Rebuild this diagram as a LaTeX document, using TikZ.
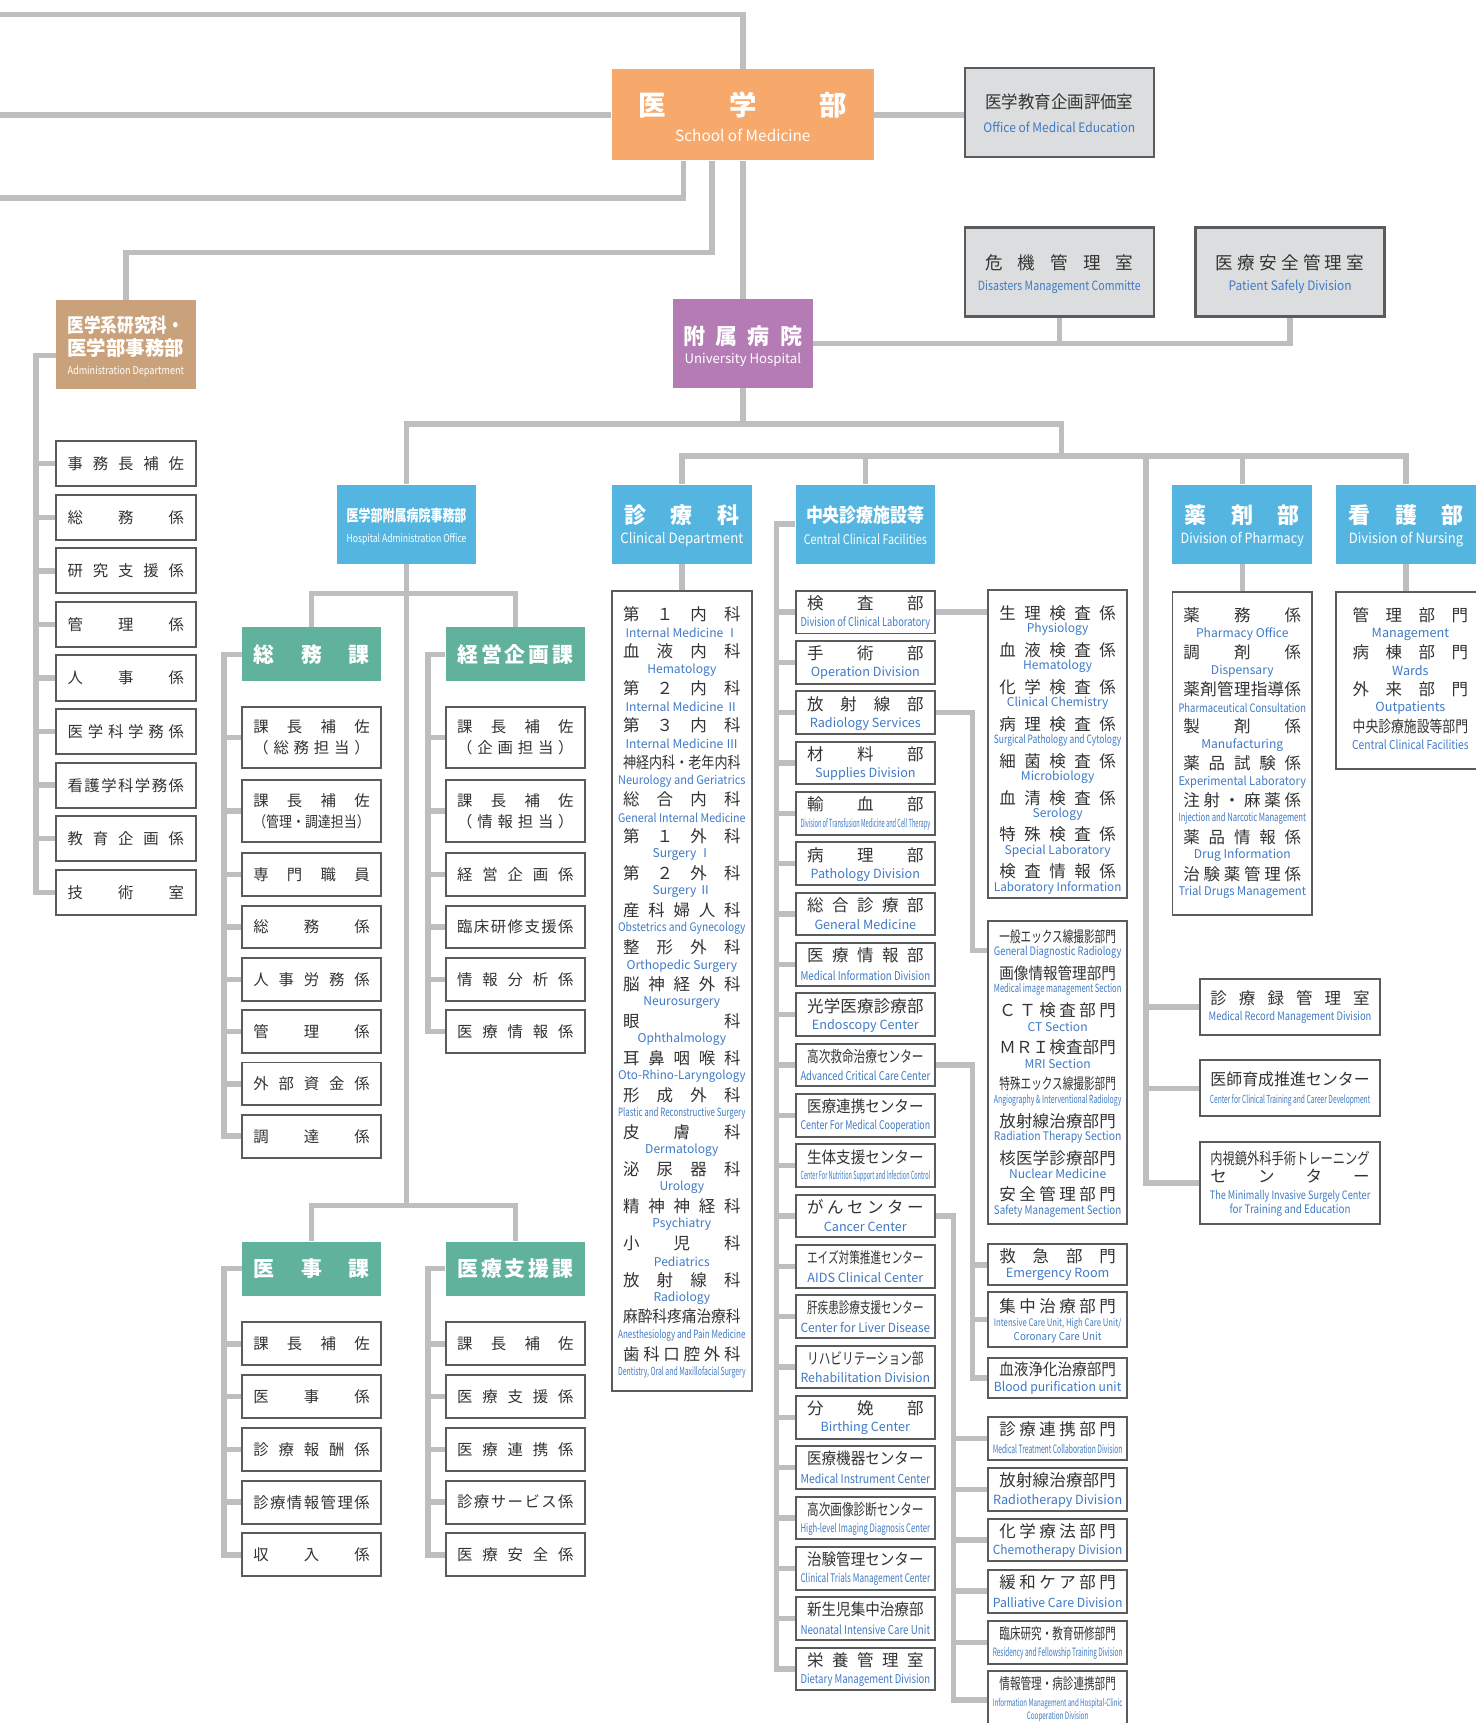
\documentclass[tikz,border=0pt]{standalone}
\usepackage{fontspec}
\setmainfont{Noto Sans CJK JP}
\usepackage{graphicx}
\usetikzlibrary{calc}
\pgfdeclarelayer{bg}
\pgfsetlayers{bg,main}

\definecolor{lineg}{HTML}{BCBEC0}
\definecolor{boxg}{HTML}{5A5B5D}
\definecolor{fillg}{HTML}{DCDDDE}
\definecolor{medor}{HTML}{F7A86B}
\definecolor{admbr}{HTML}{C9A27B}
\definecolor{hosppu}{HTML}{B57BB5}
\definecolor{hdrbl}{HTML}{53B5E0}
\definecolor{secgr}{HTML}{61B29C}
\definecolor{entx}{HTML}{3F7AC6}
\definecolor{jptx}{HTML}{333333}

\makeatletter
\newsavebox\fit@box
\newdimen\fit@wd
% squeeze a label into a width
\newcommand\fitw[2]{%
  \sbox\fit@box{#2}\fit@wd=\wd\fit@box
  \ifdim\fit@wd>#1\relax
    \pgfmathsetmacro\fit@r{pow((#1)/(\fit@wd),0.15)}%
    \resizebox{#1}{\fit@r\ht\fit@box}{\usebox\fit@box}%
  \else\usebox\fit@box\fi}
% spread characters over a width
\def\jsp@loop#1#2\jsp@end{#1\ifx\relax#2\relax\else\hfil\jsp@loop#2\jsp@end\fi}
\newcommand\jspread[2]{%
  \sbox\fit@box{#2}%
  \ifdim\wd\fit@box>#1\relax\fitw{#1}{#2}%
  \else\hbox to #1{\expandafter\jsp@loop#2\jsp@end}\fi}
\makeatother

\begin{document}
\begin{tikzpicture}[x=1pt,y=-1pt,
  conn/.style={draw=lineg, line width=5pt},
  wbox/.style={draw=boxg, line width=1.8pt, fill=white, inner sep=0pt, minimum width=127pt,
    text=jptx, font=\fontsize{14}{19}\selectfont, align=center},
  gbox/.style={wbox, fill=fillg, line width=2.2pt, minimum width=172pt, minimum height=81pt},
  hdrbox/.style={fill=hdrbl, inner sep=0pt, minimum width=127pt, minimum height=72pt},
  secbox/.style={fill=secgr, inner sep=0pt, minimum width=127pt, minimum height=49pt,
    text=white, font=\bfseries\fontsize{19}{19}\selectfont},
  jptext/.style={inner sep=0pt, text=jptx, font=\fontsize{15}{15}\selectfont},
  entext/.style={inner sep=0pt, text=entx, font=\fontsize{11}{11}\selectfont},
  wtext/.style={inner sep=0pt, text=white}]
\useasboundingbox (0,0) rectangle (1343,1568);
\coordinate (topl) at (0,13);
\coordinate (lowl) at (0,180);
\coordinate (jadm) at (114.5,230);

% top
\node[fill=medor, inner sep=0pt, minimum width=239pt, minimum height=83pt] (med) at (676,104.5) {};
\node[wtext, font=\bfseries\fontsize{25}{25}\selectfont] (medj) at (676,96) {\jspread{190pt}{医学部}};
\node[wtext, font=\fontsize{14}{14}\selectfont] (mede) at (676,123) {School of Medicine};

\node[gbox] (edu) at (964,102.5) {};
\node[jptext, font=\fontsize{16}{16}\selectfont] (eduj) at (964,93) {\jspread{135pt}{医学教育企画評価室}};
\node[entext, font=\fontsize{12}{12}\selectfont] (edue) at (964,116) {\fitw{138pt}{Office of Medical Education}};
\node[gbox] (risk) at (964,247.5) {};
\node[jptext, font=\fontsize{16}{16}\selectfont] (riskj) at (964,239) {\jspread{135pt}{危機管理室}};
\node[entext, font=\fontsize{12}{12}\selectfont] (riske) at (964,261) {\fitw{148pt}{Disasters Management Committe}};
\node[gbox] (safe) at (1174,247.5) {};
\node[jptext, font=\fontsize{16}{16}\selectfont] (safej) at (1174,239) {\jspread{135pt}{医療安全管理室}};
\node[entext, font=\fontsize{12}{12}\selectfont] (safee) at (1174,261) {\fitw{112pt}{Patient Safely Division}};

\node[fill=hosppu, inner sep=0pt, minimum width=127pt, minimum height=81pt] (hosp) at (676,312.5) {};
\node[wtext, font=\bfseries\fontsize{20}{20}\selectfont] (hospj) at (676,306) {\jspread{108pt}{附属病院}};
\node[wtext, font=\fontsize{12}{12}\selectfont] (hospe) at (676,327) {University Hospital};

\node[fill=admbr, inner sep=0pt, minimum width=127pt, minimum height=81pt] (adm) at (114.5,313.5) {};
\node[wtext, font=\bfseries\fontsize{18}{18}\selectfont] (admj1) at (114.5,296) {\jspread{106pt}{医学系研究科・}};
\node[wtext, font=\bfseries\fontsize{18}{18}\selectfont] (admj2) at (114.5,317) {\jspread{106pt}{医学部事務部}};
\node[wtext, font=\fontsize{10}{10}\selectfont] (adme) at (114.5,338) {\fitw{106pt}{Administration Department}};

\foreach \nm [count=\i] in {事務長補佐,総務係,研究支援係,管理係,人事係,医学科学務係,看護学科学務係,教育企画係,技術室} {
  \pgfmathsetmacro\yy{422+(\i-1)*48.75}
  \node[wbox, minimum height=41pt] (ad\i) at (114.5,\yy) {\jspread{106pt}{\nm}};
}

% hospital administration office
\node[hdrbox] (hadm) at (370,477) {};
\node[wtext, font=\bfseries\fontsize{15}{15}\selectfont] (hadmj) at (370,469) {\fitw{109pt}{医学部附属病院事務部}};
\node[wtext, font=\fontsize{10.5}{10.5}\selectfont] (hadme) at (370,491) {\fitw{109pt}{Hospital Administration Office}};

\node[secbox] (gs) at (283.5,595.5) {\jspread{105pt}{総務課}};
\node[secbox] (kk) at (469,595.5) {\jspread{105pt}{経営企画課}};
\node[secbox] (ij) at (283.5,1154.5) {\jspread{105pt}{医事課}};
\node[secbox] (ir) at (469,1154.5) {\jspread{105pt}{医療支援課}};

\node[wbox, minimum height=56pt] (gs1) at (283.5,671) {\jspread{106pt}{課長補佐}\\\jspread{106pt}{（総務担当）}};
\node[wbox, minimum height=56pt] (gs2) at (283.5,738) {\jspread{106pt}{課長補佐}\\\jspread{106pt}{（管理・調達担当）}};
\foreach \nm [count=\i from 3] in {専門職員,総務係,人事労務係,管理係,外部資金係,調達係} {
  \pgfmathsetmacro\yy{796+(\i-3)*47.6}
  \node[wbox, minimum height=39pt] (gs\i) at (283.5,\yy) {\jspread{106pt}{\nm}};
}
\node[wbox, minimum height=56pt] (kk1) at (469,671) {\jspread{106pt}{課長補佐}\\\jspread{106pt}{（企画担当）}};
\node[wbox, minimum height=56pt] (kk2) at (469,738) {\jspread{106pt}{課長補佐}\\\jspread{106pt}{（情報担当）}};
\foreach \nm [count=\i from 3] in {経営企画係,臨床研修支援係,情報分析係,医療情報係} {
  \pgfmathsetmacro\yy{796+(\i-3)*47.6}
  \node[wbox, minimum height=39pt] (kk\i) at (469,\yy) {\jspread{106pt}{\nm}};
}
\foreach \nm [count=\i] in {課長補佐,医事係,診療報酬係,診療情報管理係,収入係} {
  \pgfmathsetmacro\yy{1223+(\i-1)*48}
  \node[wbox, minimum height=39pt] (ij\i) at (283.5,\yy) {\jspread{106pt}{\nm}};
}
\foreach \nm [count=\i] in {課長補佐,医療支援係,医療連携係,診療サービス係,医療安全係} {
  \pgfmathsetmacro\yy{1223+(\i-1)*48}
  \node[wbox, minimum height=39pt] (ir\i) at (469,\yy) {\jspread{106pt}{\nm}};
}

% headers
\node[hdrbox] (clin) at (620.5,477) {};
\node[wtext, font=\bfseries\fontsize{20}{20}\selectfont] (clinj) at (620.5,469) {\jspread{105pt}{診療科}};
\node[wtext, font=\fontsize{13}{13}\selectfont] (cline) at (620.5,491) {\fitw{112pt}{Clinical Department}};
\node[hdrbox] (cent) at (787.5,477) {};
\node[wtext, font=\bfseries\fontsize{18}{18}\selectfont] (centj) at (787.5,469) {\jspread{108pt}{中央診療施設等}};
\node[wtext, font=\fontsize{12.5}{12.5}\selectfont] (cente) at (787.5,491) {\fitw{112pt}{Central Clinical Facilities}};
\node[hdrbox] (phar) at (1130.5,477) {};
\node[wtext, font=\bfseries\fontsize{20}{20}\selectfont] (pharj) at (1130.5,469) {\jspread{105pt}{薬剤部}};
\node[wtext, font=\fontsize{13}{13}\selectfont] (phare) at (1130.5,491) {\fitw{112pt}{Division of Pharmacy}};
\node[hdrbox] (nurs) at (1279.5,477) {};
\node[wtext, font=\bfseries\fontsize{20}{20}\selectfont] (nursj) at (1279.5,469) {\jspread{105pt}{看護部}};
\node[wtext, font=\fontsize{13}{13}\selectfont] (nurse) at (1279.5,491) {\fitw{104pt}{Division of Nursing}};

% clinical departments
\node[wbox, minimum height=728pt] (clist) at (620.5,902) {};
\foreach \jtxt/\etxt [count=\i] in {第１内科/Internal Medicine Ⅰ,血液内科/Hematology,第２内科/Internal Medicine Ⅱ,
  第３内科/Internal Medicine Ⅲ,神経内科・老年内科/Neurology and Geriatrics,総合内科/General Internal Medicine,
  第１外科/Surgery Ⅰ,第２外科/Surgery Ⅱ,産科婦人科/Obstetrics and Gynecology,整形外科/Orthopedic Surgery,
  脳神経外科/Neurosurgery,眼科/Ophthalmology,耳鼻咽喉科/Oto-Rhino-Laryngology,
  形成外科/Plastic and Reconstructive Surgery,皮膚科/Dermatology,泌尿器科/Urology,精神神経科/Psychiatry,
  小児科/Pediatrics,放射線科/Radiology,麻酔科疼痛治療科/Anesthesiology and Pain Medicine,
  歯科口腔外科/{Dentistry, Oral and Maxillofacial Surgery}} {
  \pgfmathsetmacro\yy{559+(\i-1)*33.65}
  \node[jptext] (clj\i) at (620.5,\yy) {\jspread{107pt}{\jtxt}};
  \node[entext] (cle\i) at (620.5,\yy+17) {\fitw{116pt}{\etxt}};
}

% central clinical facilities
\foreach \jtxt/\etxt [count=\i] in {検査部/Division of Clinical Laboratory,手術部/Operation Division,
  放射線部/Radiology Services,材料部/Supplies Division,輸血部/Division of Transfusion Medicine and Cell Therapy,
  病理部/Pathology Division,総合診療部/General Medicine,医療情報部/Medical Information Division,
  光学医療診療部/Endoscopy Center,高次救命治療センター/Advanced Critical Care Center,
  医療連携センター/Center For Medical Cooperation,生体支援センター/Center For Nutrition Support and Infection Control,
  がんセンター/Cancer Center,エイズ対策推進センター/AIDS Clinical Center,肝疾患診療支援センター/Center for Liver Disease,
  リハビリテーション部/Rehabilitation Division,分娩部/Birthing Center,医療機器センター/Medical Instrument Center,
  高次画像診断センター/High-level Imaging Diagnosis Center,治験管理センター/Clinical Trials Management Center,
  新生児集中治療部/Neonatal Intensive Care Unit,栄養管理室/Dietary Management Division} {
  \pgfmathsetmacro\yy{557+(\i-1)*45.8}
  \node[wbox, minimum height=39pt] (cf\i) at (787.5,\yy) {};
  \node[jptext] (cfj\i) at (787.5,\yy-8) {\jspread{106pt}{\jtxt}};
  \node[entext, font=\fontsize{11.5}{11.5}\selectfont] (cfe\i) at (787.5,\yy+10) {\fitw{118pt}{\etxt}};
}

% laboratory sections
\node[wbox, minimum height=280pt] (lab) at (962.5,677) {};
\foreach \jtxt/\etxt [count=\i] in {生理検査係/Physiology,血液検査係/Hematology,化学検査係/Clinical Chemistry,
  病理検査係/Surgical Pathology and Cytology,細菌検査係/Microbiology,血清検査係/Serology,
  特殊検査係/Special Laboratory,検査情報係/Laboratory Information} {
  \pgfmathsetmacro\yy{558+(\i-1)*33.6}
  \node[jptext] (labj\i) at (962.5,\yy) {\jspread{106pt}{\jtxt}};
  \node[entext] (labe\i) at (962.5,\yy+15) {\fitw{116pt}{\etxt}};
}

% radiology sections
\node[wbox, minimum height=276pt] (rad) at (962.5,976) {};
\foreach \jtxt/\etxt [count=\i] in {一般エックス線撮影部門/General Diagnostic Radiology,
  画像情報管理部門/Medical image management Section,ＣＴ検査部門/CT Section,ＭＲＩ検査部門/MRI Section,
  特殊エックス線撮影部門/Angiography \& Interventional Radiology,放射線治療部門/Radiation Therapy Section,
  核医学診療部門/Nuclear Medicine,安全管理部門/Safety Management Section} {
  \pgfmathsetmacro\yy{852+(\i-1)*33.6}
  \node[jptext] (radj\i) at (962.5,\yy) {\jspread{106pt}{\jtxt}};
  \node[entext] (rade\i) at (962.5,\yy+15) {\fitw{116pt}{\etxt}};
}

% critical care units
\node[wbox, minimum height=37pt] (er1) at (962.5,1151) {};
\node[jptext] (er1j) at (962.5,1143) {\jspread{106pt}{救急部門}};
\node[entext, font=\fontsize{11.5}{11.5}\selectfont] (er1e) at (962.5,1160) {Emergency Room};
\node[wbox, minimum height=50pt] (er2) at (962.5,1201) {};
\node[jptext] (er2j) at (962.5,1189) {\jspread{106pt}{集中治療部門}};
\node[entext, font=\fontsize{10}{10}\selectfont] (er2e1) at (962.5,1205) {\fitw{116pt}{Intensive Care Unit, High Care Unit/}};
\node[entext, font=\fontsize{10}{10}\selectfont] (er2e2) at (962.5,1217) {\fitw{80pt}{Coronary Care Unit}};
\node[wbox, minimum height=37pt] (er3) at (962.5,1254) {};
\node[jptext] (er3j) at (962.5,1246) {\jspread{106pt}{血液浄化治療部門}};
\node[entext, font=\fontsize{11.5}{11.5}\selectfont] (er3e) at (962.5,1263) {\fitw{116pt}{Blood purification unit}};

% cancer center units
\foreach \jtxt/\etxt/\yy [count=\i] in {診療連携部門/Medical Treatment Collaboration Division/1309,
  放射線治療部門/Radiotherapy Division/1355.5,化学療法部門/Chemotherapy Division/1401.5,
  緩和ケア部門/Palliative Care Division/1448,臨床研究・教育研修部門/Residency and Fellowship Training Division/1494.5} {
  \node[wbox, minimum height=39pt] (cn\i) at (962.5,\yy) {};
  \node[jptext] (cnj\i) at (962.5,\yy-8) {\jspread{106pt}{\jtxt}};
  \node[entext, font=\fontsize{11.5}{11.5}\selectfont] (cne\i) at (962.5,\yy+10) {\fitw{118pt}{\etxt}};
}
\node[wbox, minimum height=52pt] (cn6) at (962.5,1547) {};
\node[jptext] (cnj6) at (962.5,1532) {\jspread{106pt}{情報管理・病診連携部門}};
\node[entext, font=\fontsize{10}{10}\selectfont] (cne6a) at (962.5,1550) {\fitw{118pt}{Information Management and Hospital-Clinic}};
\node[entext, font=\fontsize{10}{10}\selectfont] (cne6b) at (962.5,1562) {\fitw{56pt}{Cooperation Division}};

% pharmacy
\node[wbox, minimum height=294pt] (plist) at (1130.5,686) {};
\foreach \jtxt/\etxt [count=\i] in {薬務係/Pharmacy Office,調剤係/Dispensary,薬剤管理指導係/Pharmaceutical Consultation,
  製剤係/Manufacturing,薬品試験係/Experimental Laboratory,注射・麻薬係/Injection and Narcotic Management,
  薬品情報係/Drug Information,治験薬管理係/Trial Drugs Management} {
  \pgfmathsetmacro\yy{560+(\i-1)*33.6}
  \node[jptext] (plj\i) at (1130.5,\yy) {\jspread{107pt}{\jtxt}};
  \node[entext] (ple\i) at (1130.5,\yy+17) {\fitw{116pt}{\etxt}};
}

% nursing
\node[wbox, minimum width=136pt, minimum height=161pt] (nlist) at (1284,619.5) {};
\foreach \jtxt/\etxt [count=\i] in {管理部門/Management,病棟部門/Wards,外来部門/Outpatients,
  中央診療施設等部門/Central Clinical Facilities} {
  \pgfmathsetmacro\yy{560+(\i-1)*33.6}
  \node[jptext] (nlj\i) at (1283.5,\yy) {\jspread{105pt}{\jtxt}};
  \node[entext, font=\fontsize{11.5}{11.5}\selectfont] (nle\i) at (1283.5,\yy+17) {\fitw{106pt}{\etxt}};
}

% right side units
\node[wbox, minimum width=164pt, minimum height=51pt] (rec) at (1174,916.5) {};
\node[jptext] (recj) at (1174,908) {\jspread{145pt}{診療録管理室}};
\node[entext] (rece) at (1174,926) {\fitw{148pt}{Medical Record Management Division}};
\node[wbox, minimum width=164pt, minimum height=51pt] (doc) at (1174,990.5) {};
\node[jptext] (docj) at (1174,982) {\jspread{145pt}{医師育成推進センター}};
\node[entext] (doce) at (1174,1001) {\fitw{146pt}{Center for Clinical Training and Career Development}};
\node[wbox, minimum width=164pt, minimum height=75pt] (mis) at (1174,1076.5) {};
\node[jptext] (misj1) at (1174,1054) {\jspread{145pt}{内視鏡外科手術トレーニング}};
\node[jptext] (misj2) at (1174,1070) {\jspread{145pt}{センター}};
\node[entext] (mise1) at (1174,1089) {\fitw{146pt}{The Minimally Invasive Surgely Center}};
\node[entext] (mise2) at (1174,1101) {\fitw{110pt}{for Training and Education}};

% connectors
\begin{pgfonlayer}{bg}
\draw[conn] (med.north) |- (topl);
\draw[conn] (med.west) -- (med.west -| topl);
\draw[conn] (med.east) -- (med.east -| edu.west);
\draw[conn] ([xshift=-54pt]med.south) |- (lowl);
\draw[conn] ([xshift=-28pt]med.south) |- (jadm) -- (adm.north);
\draw[conn] (med.south) -- (hosp.north);
\draw[conn] (hosp.east) -| (safe.south);
\draw[conn] (risk.south) -- (risk.south |- hosp.east);

\draw[conn] ([yshift=-10pt]adm.west) -- ++(-18,0) |- (ad9.west);
\foreach \i in {1,...,8} \draw[conn] (ad\i.west) -- ++(-18,0);

\coordinate (jm1) at (966,386);
\coordinate (jm2) at (966,415);
\coordinate (jm3) at (1043,415);
\draw[conn] (hosp.south) -- (hosp.south |- jm1);
\draw[conn] (hadm.north) |- (jm1) -- (jm2);
\draw[conn] (clin.north) |- (jm2) -| (nurs.north);
\draw[conn] (cent.north) -- (cent.north |- jm2);
\draw[conn] (phar.north) -- (phar.north |- jm2);
\draw[conn] (jm3) |- (mis.west);
\draw[conn] (rec.west) -- (rec.west -| jm3);
\draw[conn] (doc.west) -- (doc.west -| jm3);

\coordinate (jh1) at (370,540);
\coordinate (jh2) at (370,1097);
\draw[conn] (hadm.south) -- (jh2);
\draw[conn] (gs.north) |- (jh1) -| (kk.north);
\draw[conn] (ij.north) |- (jh2) -| (ir.north);
\draw[conn] (gs.west) -- ++(-16,0) |- (gs8.west);
\foreach \i in {1,...,7} \draw[conn] (gs\i.west) -- ++(-16,0);
\draw[conn] (kk.west) -- ++(-16,0) |- (kk6.west);
\foreach \i in {1,...,5} \draw[conn] (kk\i.west) -- ++(-16,0);
\draw[conn] (ij.west) -- ++(-16,0) |- (ij5.west);
\foreach \i in {1,...,4} \draw[conn] (ij\i.west) -- ++(-16,0);
\draw[conn] (ir.west) -- ++(-16,0) |- (ir5.west);
\foreach \i in {1,...,4} \draw[conn] (ir\i.west) -- ++(-16,0);

\draw[conn] (clin.south) -- (clist.north);
\draw[conn] (cent.west) -- ++(-17,0) |- (cf22.west);
\foreach \i in {1,...,21} \draw[conn] (cf\i.west) -- ++(-17,0);
\draw[conn] (cf1.east) -- (cf1.east -| lab.west);
\draw[conn] (cf3.east) -- ++(33,0) |- ([yshift=-28pt]rad.north west);
\draw[conn] (cf10.east) -- ++(33,0) |- (er3.west);
\foreach \i in {1,2} \draw[conn] (er\i.west) -- ++(-15,0);
\draw[conn] (cf13.east) -- ++(16,0) |- (cn6.west);
\foreach \i in {1,...,5} \draw[conn] (cn\i.west) -- ++(-32,0);
\draw[conn] (phar.south) -- (plist.north);
\draw[conn] (nurs.south) -- (nurs.south |- nlist.north);
\end{pgfonlayer}
\end{tikzpicture}
\end{document}
